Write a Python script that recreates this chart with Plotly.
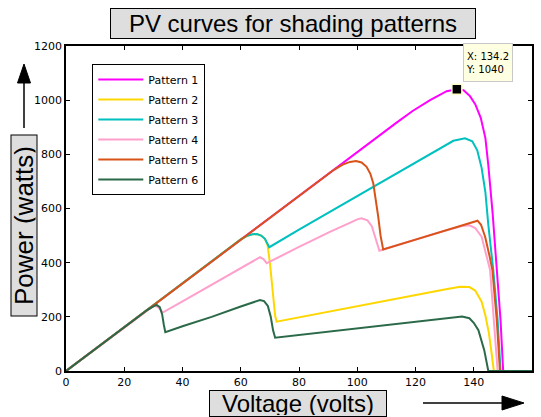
import plotly.graph_objects as go

# ---------------- data ----------------
names = ["Pattern 1", "Pattern 2", "Pattern 3", "Pattern 4", "Pattern 5", "Pattern 6"]

v1 = [0, 20, 40, 60, 80, 100, 107, 113.5, 119, 125, 130.7, 134.2, 136.5, 138.7, 140.5, 142.4, 144, 145, 146.5, 148, 149.2, 150.1, 160]
p1 = [0, 162, 324, 486, 648, 808, 865, 917, 960, 1000, 1033, 1040, 1037, 1015, 985, 935, 860, 760, 580, 380, 188, 0, 0]

v2 = [0, 20, 40, 60, 62, 64, 65.5, 67, 68.3, 69.2, 70, 70.6, 71.2, 71.8, 72.3, 80, 90, 100, 110, 120, 130, 135.3, 138.5, 140.5, 142.7, 144, 145.2, 146.2, 146.9, 160]
p2 = [0, 162, 324, 486, 498, 505, 506, 500, 488, 465, 400, 330, 262, 205, 182, 198, 220, 241, 262, 282, 301, 311, 310, 297, 256, 205, 140, 60, 0, 0]

v3 = [0, 20, 40, 60, 62, 64, 65.5, 67, 68.3, 69.2, 69.8, 80, 90, 100, 110, 120, 128, 133, 137, 139.5, 141.2, 142.7, 144, 145, 146.7, 148.2, 149.2, 160]
p3 = [0, 162, 324, 486, 498, 505, 506, 500, 488, 470, 457, 522, 584, 646, 708, 770, 820, 850, 859, 848, 815, 750, 660, 540, 373, 188, 0, 0]

v4 = [0, 20, 28, 29.5, 30.5, 31.5, 32.3, 33.2, 40, 50, 60, 63, 65, 66.6, 67.8, 68.9, 80, 90.6, 98, 100, 101.5, 103.5, 105, 106.3, 107.6, 110, 120, 130, 136, 138.5, 140.5, 142.7, 145.6, 147, 148.2, 160]
p4 = [0, 162, 226, 236, 240, 237, 228, 216, 257, 318, 380, 398, 412, 420, 413, 398, 458, 514, 550, 560, 564, 556, 535, 490, 444, 452, 486, 518, 535, 538, 528, 496, 373, 188, 0, 0]

v5 = [0, 20, 40, 60, 80, 92, 95, 97.5, 99.6, 101.5, 103.2, 104.5, 105.5, 106.5, 107.2, 108, 108.9, 120, 130, 138, 141.3, 142.5, 143.9, 145.3, 146.4, 147.9, 149, 160]
p5 = [0, 162, 324, 486, 648, 743, 762, 772, 775, 770, 754, 728, 693, 630, 570, 500, 449, 485, 518, 545, 555, 540, 496, 430, 373, 188, 0, 0]

v6 = [0, 20, 28, 30, 31.1, 32.2, 33, 33.6, 34.1, 40, 50, 60, 64, 66.6, 68, 69.3, 70.3, 71.1, 71.8, 80, 90, 100, 110, 120, 130, 134, 136, 138.5, 140, 141.6, 143.6, 145, 160]
p6 = [0, 162, 226, 239, 244, 236, 210, 170, 143, 165, 200, 238, 252, 262, 258, 240, 200, 150, 123, 133, 145, 157, 168, 181, 194, 200, 201, 195, 178, 151, 77, 0, 0]

tip_v = [134.2]
tip_p = [1040]

x_ticks = [0, 20, 40, 60, 80, 100, 120, 140, 160]
y_ticks = [0, 200, 400, 600, 800, 1000, 1200]

colors = ["#FF00FF", "#FFD700", "#00C0C0", "#FFA0CC", "#D95319", "#2B6A48"]

# ---------------- layout geometry (pixels) ----------------
W, H = 541, 417
PL, PR, PT, PB = 66, 532, 46, 371


def px2x(px):
    return (px - PL) / (PR - PL)


def py2y(py):
    return (PB - py) / (PB - PT)


fig = go.Figure()
series = [(v1, p1), (v2, p2), (v3, p3), (v4, p4), (v5, p5), (v6, p6)]
for i, (vv, pp) in enumerate(series):
    fig.add_trace(go.Scatter(x=vv, y=pp, mode="lines", name=names[i],
                             legendgroup=names[i],
                             line=dict(color=colors[i], width=2)))

fig.add_trace(go.Scatter(x=tip_v, y=tip_p, mode="markers", showlegend=False,
                         cliponaxis=False,
                         marker=dict(symbol="square", size=10, color="black",
                                     line=dict(color="#FFFFC8", width=1.5))))

tickfont = dict(family="DejaVu Sans", size=11, color="black")
axis_common = dict(showgrid=False, zeroline=False, showline=True, linecolor="black",
                   linewidth=1.5, mirror="ticks", ticks="inside", ticklen=4,
                   tickcolor="black", tickwidth=1, tickfont=tickfont, automargin=False)

fig.update_layout(
    template="none",
    width=W, height=H,
    margin=dict(l=PL, r=W - PR, t=PT, b=H - PB, pad=0),
    paper_bgcolor="white", plot_bgcolor="white",
    font=dict(family="Liberation Sans, Arial", color="black"),
    xaxis=dict(range=[0, 160], tickvals=x_ticks, ticktext=[str(t) for t in x_ticks], **axis_common),
    yaxis=dict(range=[0, 1200], tickvals=y_ticks, ticktext=[str(t) for t in y_ticks], **axis_common),
    legend=dict(x=px2x(92.3), y=py2y(64), xanchor="left", yanchor="top",
                bgcolor="white", bordercolor="black", borderwidth=1,
                font=dict(family="DejaVu Sans", size=11, color="black"),
                tracegroupgap=1, itemwidth=45),
    showlegend=True,
)

annotations = [
    dict(text="PV curves for shading patterns", x=px2x(293), y=py2y(23.5),
         font=dict(family="Liberation Sans, Arial", size=24, color="black"),
         bgcolor="#DEDEDE", bordercolor="black", borderwidth=1, borderpad=1,
         width=362, height=27),
    dict(text="Voltage (volts)", x=px2x(298), y=py2y(403),
         font=dict(family="Liberation Sans, Arial", size=24, color="black"),
         bgcolor="#DEDEDE", bordercolor="black", borderwidth=1, borderpad=1,
         width=174, height=23),
    dict(text="Power (watts)", x=px2x(23.5), y=py2y(226), textangle=-90,
         font=dict(family="Liberation Sans, Arial", size=26, color="black"),
         bgcolor="#DEDEDE", bordercolor="black", borderwidth=1, borderpad=1,
         width=178, height=23),
    dict(text="X: 134.2<br>Y: 1040", x=px2x(487.5), y=py2y(62.2), align="left",
         font=dict(family="DejaVu Sans", size=10, color="black"),
         bgcolor="#FFFFE1", bordercolor="#C8C8C8", borderwidth=1, borderpad=2,
         width=44, height=33),
]
for a in annotations:
    a.update(xref="paper", yref="paper", xanchor="center", yanchor="middle", showarrow=False)
fig.update_layout(annotations=annotations)

shapes = [
    # y arrow
    dict(type="line", x0=px2x(24), x1=px2x(24), y0=py2y(128), y1=py2y(82),
         line=dict(color="black", width=1.5)),
    dict(type="path",
         path="M {} {} L {} {} L {} {} Z".format(px2x(24), py2y(64), px2x(17.5), py2y(83), px2x(30.5), py2y(83)),
         fillcolor="black", line=dict(color="black", width=1)),
    # x arrow
    dict(type="line", x0=px2x(423), x1=px2x(503), y0=py2y(403), y1=py2y(403),
         line=dict(color="black", width=1.5)),
    dict(type="path",
         path="M {} {} L {} {} L {} {} Z".format(px2x(524), py2y(403), px2x(502), py2y(396), px2x(502), py2y(410)),
         fillcolor="black", line=dict(color="black", width=1)),
]
for s in shapes:
    s.update(xref="paper", yref="paper")
fig.update_layout(shapes=shapes)

fig.write_html("out.html")
